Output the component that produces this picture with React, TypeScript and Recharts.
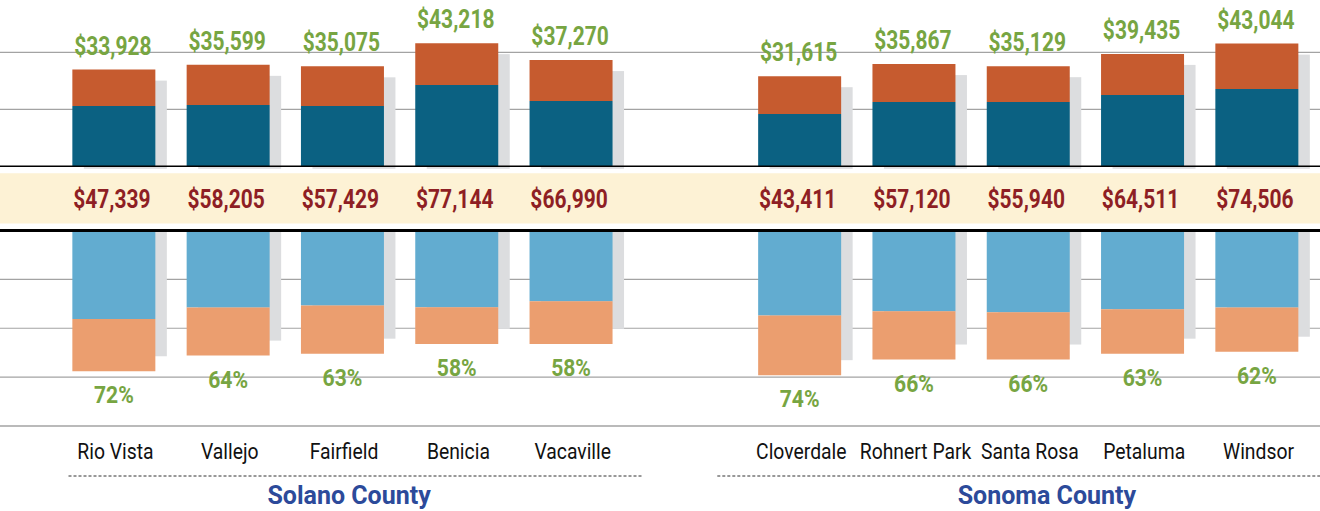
import React from 'react';
import {
  ComposedChart,
  Bar,
  XAxis,
  YAxis,
  CartesianGrid,
  ReferenceLine,
  LabelList,
} from 'recharts';

// ---------- DATA ----------
const cities = [
  'Rio Vista', 'Vallejo', 'Fairfield', 'Benicia', 'Vacaville', '',
  'Cloverdale', 'Rohnert Park', 'Santa Rosa', 'Petaluma', 'Windsor',
];
// top panel: total (label) and the dark-blue lower segment, in dollars
const costTotal = [33928, 35599, 35075, 43218, 37270, null, 31615, 35867, 35129, 39435, 43044];
const costDark = [21160, 21510, 21160, 28530, 22910, null, 18350, 22560, 22560, 25020, 27120];
// middle band: median income
const medianIncome = [47339, 58205, 57429, 77144, 66990, null, 43411, 57120, 55940, 64511, 74506];
// lower panel: total share (label, %) and the light-blue segment (%)
const shareTotal = [72, 64, 63, 58, 58, null, 74, 66, 66, 63, 62];
const shareDark = [45.3, 39.4, 38.4, 39.3, 36.2, null, 43.5, 41.3, 41.8, 40.3, 39.4];
const counties = [
  { name: 'Solano County', first: 0, last: 4 },
  { name: 'Sonoma County', first: 6, last: 10 },
];
const topGridValues = [20000, 40000];
const bottomGridValues = [25, 50, 75];

const data = cities.map((city, i) => ({
  city,
  dark: costDark[i],
  orange: costTotal[i] == null ? null : (costTotal[i] as number) - (costDark[i] as number),
  total: costTotal[i],
  income: medianIncome[i],
  lblue: shareDark[i],
  lorange: shareTotal[i] == null ? null : (shareTotal[i] as number) - (shareDark[i] as number),
  pct: shareTotal[i],
}));

// ---------- LAYOUT ----------
const W = 1320;
const H = 511;
const AXIS_H = 85;
const PLOT_H = H - AXIS_H; // 426
const PAD_L = 56.35;
const PAD_R = 6.35;
const SLOT = (W - PAD_L - PAD_R) / cities.length;
const BAR = 83;

const TOP_ZERO = 166.3;
const TOP_STEP_PX = 57;
const TOP_STEP = 20000;
const pxToTop = (py: number) => ((TOP_ZERO - py) / TOP_STEP_PX) * TOP_STEP;
const TOP_DOMAIN = [pxToTop(PLOT_H), pxToTop(0)];

const BOT_ZERO = 230.5;
const BOT_PX = (PLOT_H - BOT_ZERO) / 100;
const BOT_DOMAIN = [-BOT_ZERO / BOT_PX, 100];

const BAND_TOP_PX = 173.3;
const BAND_BOTTOM_PX = 223.5;
const BAND_CENTER = pxToTop((BAND_TOP_PX + BAND_BOTTOM_PX) / 2);
const BAND_THICK = BAND_BOTTOM_PX - BAND_TOP_PX;

const C = {
  dark: '#0b6182',
  orange: '#c65b2f',
  lblue: '#62acd0',
  lorange: '#eb9e6f',
  shadow: '#dcdddf',
  cream: '#fdf2d5',
  green: '#77a542',
  red: '#8e1f24',
  county: '#2c4a9a',
  grid: '#a3a3a3',
};

const FONT = 'Roboto, "Noto Sans", sans-serif';

const money = (v: number) => '$' + v.toLocaleString('en-US');

const CondText = ({ x, y, text, size, weight, fill, sx }: any) => (
  <text
    transform={`translate(${x},${y}) scale(${sx},1)`}
    textAnchor="middle"
    fontFamily={FONT}
    fontSize={size}
    fontWeight={weight}
    fill={fill}
  >
    {text}
  </text>
);

const TotalLabel = (p: any) => {
  if (p.value == null) return null;
  const top = Math.min(p.y, p.y + p.height);
  return <CondText x={p.x + p.width / 2 - 1} y={top - 15} text={money(p.value)} size={25} weight={700} fill={C.green} sx={0.84} />;
};

const IncomeLabel = (p: any) => {
  if (p.value == null) return null;
  const bottom = Math.max(p.y, p.y + p.height);
  return <CondText x={p.x + p.width / 2 - 2} y={bottom + 42} text={money(p.value)} size={25} weight={700} fill={C.red} sx={0.84} />;
};

const PctLabel = (p: any) => {
  if (p.value == null) return null;
  const bottom = Math.max(p.y, p.y + p.height);
  return <CondText x={p.x + p.width / 2} y={bottom + 32} text={`${p.value}%`} size={24} weight={700} fill={C.green} sx={0.88} />;
};

const TopShadow = (p: any) => {
  const top = Math.min(p.y, p.y + p.height);
  const bottom = Math.max(p.y, p.y + p.height);
  return <rect x={p.x + 11.5} y={top + 11} width={p.width} height={bottom + 2.5 - (top + 11)} fill={C.shadow} />;
};

const BottomShadow = (p: any) => {
  const top = Math.min(p.y, p.y + p.height);
  const bottom = Math.max(p.y, p.y + p.height);
  return <rect x={p.x + 11.5} y={top + 1.5} width={p.width} height={Math.max(0, bottom - 15 - (top + 1.5))} fill={C.shadow} />;
};

const countyStyle: Record<string, { left: number; right: number; dx: number }> = {
  'Solano County': { left: 45, right: 72, dx: 7 },
  'Sonoma County': { left: 82, right: 64, dx: 19 },
};

const CityTick = (props: any) => {
  const { x, y, payload } = props;
  const index = typeof props.index === 'number' ? props.index : cities.indexOf(payload.value);
  const groups = counties.filter((c) => c.first === index);
  return (
    <g>
      {payload.value ? (
        <CondText x={x + 2} y={y + 33} text={payload.value} size={22.5} weight={400} fill="#111" sx={0.86} />
      ) : null}
      {groups.map((g) => {
        const st = countyStyle[g.name];
        const span = (g.last - g.first) * SLOT;
        return (
          <g key={g.name}>
            <line
              x1={x - st.left}
              x2={x + span + st.right}
              y1={y + 50}
              y2={y + 50}
              stroke="#333"
              strokeWidth={1}
              strokeDasharray="3 2"
            />
            <text
              x={x + span / 2 + st.dx}
              y={y + 78}
              textAnchor="middle"
              fontFamily={FONT}
              fontSize={25}
              fontWeight={700}
              fill={C.county}
            >
              {g.name}
            </text>
          </g>
        );
      })}
    </g>
  );
};

export default function App() {
  const pad = { left: PAD_L, right: PAD_R };
  return (
    <div style={{ position: 'absolute', left: 0, top: 0, width: W, height: H, background: '#fff' }}>
      <ComposedChart width={W} height={H} data={data} margin={{ top: 0, right: 0, bottom: 0, left: 0 }}>
        <YAxis yAxisId="t" type="number" domain={TOP_DOMAIN} allowDataOverflow hide />
        <YAxis yAxisId="b" type="number" domain={BOT_DOMAIN} allowDataOverflow reversed hide />
        <XAxis xAxisId="xs1" dataKey="city" padding={pad} hide />
        <XAxis xAxisId="xs2" dataKey="city" padding={pad} hide />
        <XAxis xAxisId="xt" dataKey="city" padding={pad} hide />
        <XAxis
          xAxisId="xb"
          dataKey="city"
          padding={pad}
          height={AXIS_H}
          interval={0}
          tickLine={false}
          tickSize={0}
          tickMargin={0}
          axisLine={{ stroke: C.grid, strokeWidth: 1.5 }}
          tick={(p: any) => <CityTick {...p} />}
        />
        <CartesianGrid xAxisId="xb" yAxisId="t" vertical={false} horizontalValues={topGridValues} stroke={C.grid} strokeWidth={1.2} />
        <CartesianGrid xAxisId="xb" yAxisId="b" vertical={false} horizontalValues={bottomGridValues} stroke={C.grid} strokeWidth={1.2} />
        <ReferenceLine xAxisId="xb" yAxisId="t" y={BAND_CENTER} stroke={C.cream} strokeWidth={BAND_THICK} />

        <Bar xAxisId="xs1" yAxisId="t" dataKey="total" barSize={BAR} fill={C.shadow} shape={TopShadow} isAnimationActive={false} />
        <Bar xAxisId="xs2" yAxisId="b" dataKey="pct" barSize={BAR} fill={C.shadow} shape={BottomShadow} isAnimationActive={false} />

        <Bar xAxisId="xt" yAxisId="t" dataKey="dark" stackId="t" barSize={BAR} fill={C.dark} isAnimationActive={false}>
          <LabelList dataKey="income" content={IncomeLabel} />
        </Bar>
        <Bar xAxisId="xt" yAxisId="t" dataKey="orange" stackId="t" barSize={BAR} fill={C.orange} isAnimationActive={false}>
          <LabelList dataKey="total" content={TotalLabel} />
        </Bar>

        <Bar xAxisId="xb" yAxisId="b" dataKey="lblue" stackId="b" barSize={BAR} fill={C.lblue} isAnimationActive={false} />
        <Bar xAxisId="xb" yAxisId="b" dataKey="lorange" stackId="b" barSize={BAR} fill={C.lorange} isAnimationActive={false}>
          <LabelList dataKey="pct" content={PctLabel} />
        </Bar>

        <ReferenceLine xAxisId="xb" yAxisId="t" y={0} stroke="#000" strokeWidth={1.6} />
        <ReferenceLine xAxisId="xb" yAxisId="b" y={0} stroke="#000" strokeWidth={3} />
      </ComposedChart>
    </div>
  );
}
